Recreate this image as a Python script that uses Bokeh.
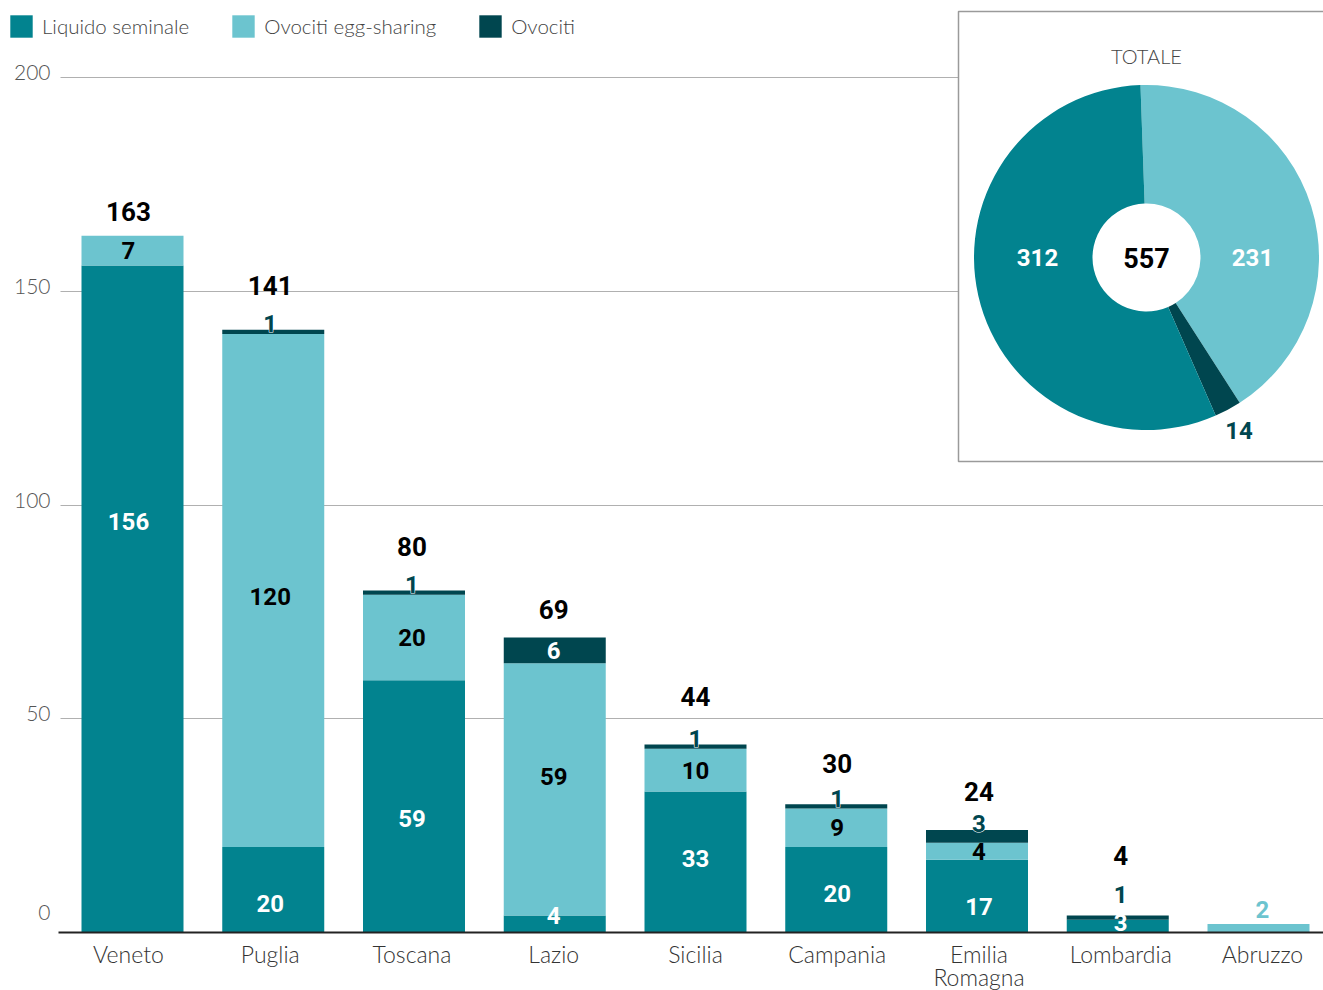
import math
from bokeh.plotting import figure
from bokeh.models import ColumnDataSource, Range1d, FixedTicker, Legend, LegendItem
from bokeh.core.properties import value
from bokeh.embed import file_html
from bokeh.resources import INLINE

# ---------------- data ----------------
regions = ["Veneto", "Puglia", "Toscana", "Lazio", "Sicilia", "Campania",
           "Emilia Romagna", "Lombardia", "Abruzzo"]
liquido = [156, 20, 59, 4, 33, 20, 17, 3, 0]
egg_sharing = [7, 120, 20, 59, 10, 9, 4, 0, 2]
ovociti = [0, 1, 1, 6, 1, 1, 3, 1, 0]
series_names = ["Liquido seminale", "Ovociti egg-sharing", "Ovociti"]
y_ticks = [0, 50, 100, 150, 200]
pie_title = "TOTALE"

# ---------------- style / layout ----------------
colors = ["#02838F", "#6CC4CF", "#00464F"]
BOLD_FONT = "Roboto"
LIGHT_FONT = "Lato Light"

FRAME_W, FRAME_H = 1323, 932
PX_X = 141.75          # pixels per category step (labels)
PX_Y = 4.275           # pixels per unit on y
X0_PX = 128            # pixel x of the first category centre (labels)
BAR_PX_X, BAR_X0_PX = 140.75, 132   # bars sit on a slightly different grid


def px_x(px):
    return (px - X0_PX) / PX_X


def px_y(py):
    return (FRAME_H - py) / PX_Y


x_start, x_end = px_x(0), px_x(FRAME_W)
y_end = px_y(0)

p = figure(frame_width=FRAME_W, frame_height=FRAME_H, output_backend="svg",
           toolbar_location=None, y_axis_location=None,
           x_range=Range1d(x_start, x_end), y_range=Range1d(0, y_end),
           min_border_left=0, min_border_right=0, min_border_top=0,
           min_border_bottom=0)
p.extra_x_ranges = {"bars": Range1d(-BAR_X0_PX / BAR_PX_X,
                                    (FRAME_W - BAR_X0_PX) / BAR_PX_X)}
p.outline_line_color = None
p.xgrid.visible = False
p.ygrid.ticker = FixedTicker(ticks=y_ticks)
p.ygrid.grid_line_color = "#b0b0b0"
p.ygrid.grid_line_width = 1
p.ygrid.cross_bounds = (px_x(60), x_end)

# x axis
p.xaxis.ticker = FixedTicker(ticks=list(range(len(regions))))
p.xaxis.major_label_overrides = {i: r.replace(" ", "\n") for i, r in enumerate(regions)}
p.xaxis.bounds = (px_x(58), x_end)
p.xaxis.axis_line_color = "#222222"
p.xaxis.axis_line_width = 2
p.xaxis.major_tick_line_color = None
p.xaxis.minor_tick_line_color = None
p.xaxis.major_label_text_font = LIGHT_FONT
p.xaxis.major_label_text_font_size = "23px"
p.xaxis.major_label_text_color = "#333333"
p.xaxis.major_label_standoff = 1
p.xaxis.major_label_text_line_height = 0.85

# y tick labels (inside frame, left of the grid)
YLAB_NUDGE = {0: -20}
p.text(x=[px_x(50)] * len(y_ticks), y=y_ticks, text=[str(t) for t in y_ticks],
       y_offset=[YLAB_NUDGE.get(t, -5) for t in y_ticks],
       text_align="right", text_baseline="middle", text_color="#555555",
       text_font=value(LIGHT_FONT), text_font_size="21px")

# ---------------- bars ----------------
xs = list(range(len(regions)))
series_vals = [liquido, egg_sharing, ovociti]
src = ColumnDataSource(dict(x=xs, **{n: v for n, v in zip(series_names, series_vals)}))
bars = p.vbar_stack(series_names, x="x", width=102 / BAR_PX_X, source=src,
                    fill_color=colors, line_color=None, x_range_name="bars")

# ---------------- segment labels ----------------
NUDGE = {("Veneto", 0): -78, ("Puglia", 0): 14, ("Puglia", 1): 6,
         ("Toscana", 0): 12, ("Lazio", 0): -8, ("Lazio", 1): -13,
         ("Sicilia", 0): -3, ("Campania", 0): 4,
         ("Emilia Romagna", 0): 10, ("Lombardia", 0): -4, ("Lombardia", 2): -15}
TOTAL_NUDGE = {"Veneto": 2, "Sicilia": -4, "Campania": 3, "Emilia Romagna": 6,
               "Lazio": -2, "Lombardia": -16}

lab = dict(x=[], y=[], text=[], color=[], off=[])
halo = dict(x=[], y=[], text=[], off=[])
tot = dict(x=[], y=[], text=[], off=[])
for i, reg in enumerate(regions):
    base = 0
    top_inside = True
    for s, vals in enumerate(series_vals):
        v = vals[i]
        if v == 0:
            continue
        top = base + v
        outside = False
        if s == 0:
            y, off, col = base + v / 2, 0, "#ffffff"
        elif s == 1:
            if v >= 3:
                y, off, col = base + v / 2, 0, "#000000"
            else:
                y, off, col, outside = top, -14, colors[1], True
        else:
            if v >= 5:
                y, off, col = base + v / 2, 0, "#ffffff"
            else:
                y, off, col, outside = top, -6, colors[2], True
        top_inside = not outside
        off += NUDGE.get((reg, s), 0)
        lab["x"].append(i); lab["y"].append(y); lab["text"].append(str(v))
        lab["color"].append(col); lab["off"].append(off)
        if outside:
            halo["x"].append(i); halo["y"].append(y); halo["text"].append(str(v))
            halo["off"].append(off)
        base = top
    n_nonzero = sum(1 for vals in series_vals if vals[i] > 0)
    if n_nonzero > 1:
        total = sum(vals[i] for vals in series_vals)
        off = (-26 if top_inside else -44) + TOTAL_NUDGE.get(reg, 0)
        tot["x"].append(i); tot["y"].append(total); tot["text"].append(str(total))
        tot["off"].append(off)

label_style = dict(text_align="center", text_baseline="middle",
                   text_font=value(BOLD_FONT), text_font_style="bold")
p.text(x="x", y="y", text="text", source=ColumnDataSource(halo), y_offset="off",
       text_color="#ffffff", text_outline_color="#ffffff", text_font_size="24px",
       **label_style)
p.text(x="x", y="y", text="text", source=ColumnDataSource(lab), y_offset="off",
       text_color="color", text_font_size="24px", **label_style)
p.text(x="x", y="y", text="text", source=ColumnDataSource(tot), y_offset="off",
       text_color="#000000", text_font_size="26px", **label_style)

# ---------------- inset donut ----------------
p.quad(left=px_x(958), right=px_x(1400), top=px_y(11), bottom=px_y(461),
       fill_color="#ffffff", line_color="#9a9a9a", line_width=1.5)

cx, cy = px_x(1146), px_y(257)
totals = [sum(v) for v in series_vals]
grand = sum(totals)
order = [1, 2, 0]          # clockwise from top
theta = -2.0
wed = dict(start=[], end=[], color=[])
mids = {}
for s in order:
    span = 360.0 * totals[s] / grand
    wed["start"].append(math.radians(90 - theta))
    wed["end"].append(math.radians(90 - theta - span))
    wed["color"].append(colors[s])
    mids[s] = theta + span / 2
    theta += span
wed["x"] = [cx] * 3
wed["y"] = [cy] * 3
p.annular_wedge(x="x", y="y", inner_radius=54, outer_radius=172.5,
                inner_radius_units="screen", outer_radius_units="screen",
                start_angle="start", end_angle="end", direction="clock",
                fill_color="color", line_color=None, source=ColumnDataSource(wed))

m14 = math.radians(mids[2])
pie_lab = dict(x=[cx] * 3, y=[cy] * 3,
               text=[str(totals[0]), str(totals[1]), str(totals[2])],
               color=["#ffffff", "#ffffff", colors[2]],
               xo=[-109, 106, 196 * math.sin(m14)],
               yo=[0, 0, -196 * math.cos(m14)])
p.text(x="x", y="y", text="text", text_color="color", x_offset="xo", y_offset="yo",
       source=ColumnDataSource(pie_lab), text_font_size="24px", **label_style)
p.text(x=[cx], y=[cy], text=[str(grand)], text_color="#000000",
       text_font_size="27px", **label_style)
p.text(x=[cx], y=[cy], text=[pie_title], y_offset=-202, text_color="#444444",
       text_align="center", text_baseline="middle",
       text_font=value(LIGHT_FONT), text_font_size="20px")

# ---------------- legend ----------------
GLYPH = 28   # legend box is drawn at 80% of the glyph area -> ~22px square
legend = Legend(items=[LegendItem(label=n, renderers=[r]) for n, r in zip(series_names, bars)],
                location=(7, FRAME_H - 12 - GLYPH), orientation="horizontal",
                glyph_width=GLYPH, glyph_height=GLYPH, label_height=GLYPH,
                label_standoff=7, spacing=40, padding=0, margin=0,
                border_line_color=None, background_fill_alpha=0,
                label_text_font=LIGHT_FONT, label_text_font_size="20.5px",
                label_text_color="#444444")
p.add_layout(legend)

open("out.html", "w").write(file_html(p, INLINE))
